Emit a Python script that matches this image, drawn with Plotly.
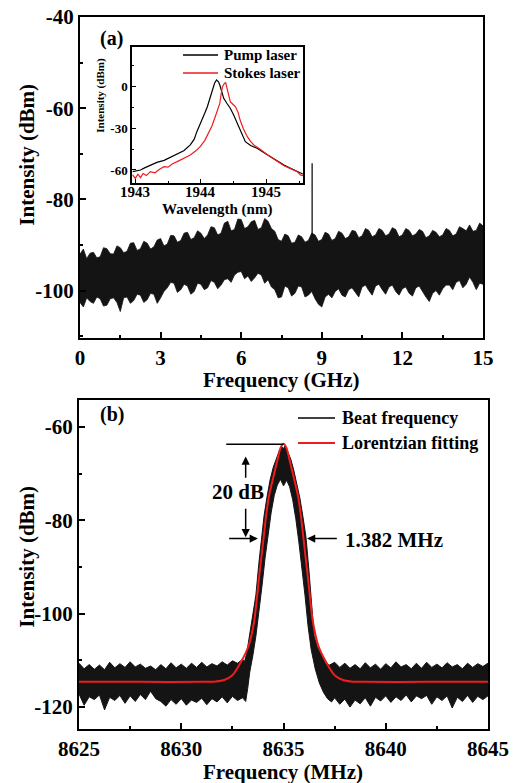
import plotly.graph_objects as go

W, H = 516, 783

# ---------------- (a) RF beat spectrum 0-15 GHz (noise band envelopes) ----------------
rf_freq_ghz = [0.0, 0.125, 0.25, 0.375, 0.5, 0.625, 0.75, 0.875, 1.0, 1.125, 1.25, 1.375, 1.5, 1.625, 1.75,
               1.875, 2.0, 2.125, 2.25, 2.375, 2.5, 2.625, 2.75, 2.875, 3.0, 3.125, 3.25, 3.375, 3.5, 3.625,
               3.75, 3.875, 4.0, 4.125, 4.25, 4.375, 4.5, 4.625, 4.75, 4.875, 5.0, 5.125, 5.25, 5.375, 5.5,
               5.625, 5.75, 5.875, 6.0, 6.125, 6.25, 6.375, 6.5, 6.625, 6.75, 6.875, 7.0, 7.125, 7.25, 7.375,
               7.5, 7.625, 7.75, 7.875, 8.0, 8.125, 8.25, 8.375, 8.5, 8.625, 8.75, 8.875, 9.0, 9.125, 9.25,
               9.375, 9.5, 9.625, 9.75, 9.875, 10.0, 10.125, 10.25, 10.375, 10.5, 10.625, 10.75, 10.875, 11.0,
               11.125, 11.25, 11.375, 11.5, 11.625, 11.75, 11.875, 12.0, 12.125, 12.25, 12.375, 12.5, 12.625,
               12.75, 12.875, 13.0, 13.125, 13.25, 13.375, 13.5, 13.625, 13.75, 13.875, 14.0, 14.125, 14.25,
               14.375, 14.5, 14.625, 14.75, 14.875, 15.0]
rf_upper_dbm = [-92.0, -90.9, -93.0, -91.8, -91.6, -92.8, -92.6, -90.6, -90.8, -91.9, -92.0, -90.2, -90.6,
                -91.7, -91.4, -89.6, -89.5, -91.2, -90.8, -89.2, -89.6, -90.9, -90.4, -88.9, -88.6, -90.2,
                -89.8, -87.9, -88.0, -89.4, -89.0, -87.4, -87.2, -88.8, -88.4, -86.9, -87.4, -88.6, -87.8,
                -86.0, -86.2, -87.8, -87.4, -85.2, -84.8, -86.9, -86.6, -84.3, -84.4, -86.4, -86.0, -84.9,
                -84.6, -86.6, -86.2, -84.2, -84.8, -86.4, -87.0, -88.8, -89.2, -87.6, -88.0, -89.6, -89.4,
                -87.8, -88.2, -89.4, -89.0, -87.4, -87.8, -89.2, -88.8, -87.2, -87.6, -89.0, -88.6, -87.0,
                -87.4, -88.6, -88.2, -86.8, -87.0, -88.4, -88.0, -86.4, -86.8, -88.2, -87.8, -86.4, -86.8,
                -88.0, -87.6, -86.2, -86.6, -88.2, -87.8, -86.4, -86.8, -88.0, -87.6, -86.6, -87.0, -88.4,
                -88.0, -86.8, -87.2, -88.2, -87.8, -86.4, -86.8, -88.0, -87.6, -86.0, -86.4, -86.9, -85.6,
                -87.0, -86.8, -85.2, -85.8]
rf_lower_dbm = [-102.6, -103.6, -101.6, -102.4, -102.8, -101.4, -101.8, -103.4, -103.2, -101.8, -101.6,
                -102.6, -104.6, -101.6, -101.4, -102.8, -102.2, -100.8, -101.0, -102.6, -102.0, -100.6,
                -100.8, -102.8, -101.6, -100.2, -99.4, -98.2, -98.4, -100.4, -99.8, -98.6, -99.0, -100.8,
                -100.2, -98.4, -98.6, -99.8, -99.4, -97.8, -98.2, -99.6, -98.8, -97.6, -97.4, -98.2, -96.6,
                -96.0, -95.8, -97.4, -96.8, -98.0, -97.2, -96.2, -96.6, -98.4, -97.6, -99.2, -99.8, -101.6,
                -101.4, -99.0, -99.4, -101.2, -100.6, -99.0, -99.2, -101.4, -101.0, -100.2, -101.8, -103.0,
                -103.6, -101.4, -100.8, -101.6, -100.2, -99.6, -101.0, -101.4, -99.8, -99.4, -100.4, -101.4,
                -99.2, -98.8, -100.0, -101.0, -99.0, -98.6, -99.8, -100.8, -99.2, -98.8, -100.2, -101.0,
                -99.6, -99.2, -100.6, -101.2, -99.4, -99.0, -100.2, -101.4, -102.4, -100.6, -100.0, -101.0,
                -99.6, -98.8, -98.8, -99.8, -98.2, -97.8, -99.4, -98.6, -97.0, -98.2, -99.8, -98.4, -98.6]
spur_freq_ghz = [8.64, 8.64]
spur_dbm = [-88.0, -72.1]

# ---------------- inset: optical spectra ----------------
pump_wl_nm = [1942.96, 1943.02, 1943.08, 1943.15, 1943.23, 1943.33, 1943.44, 1943.54, 1943.64, 1943.74,
              1943.84, 1943.90, 1943.94, 1943.98, 1944.02, 1944.06, 1944.10, 1944.14, 1944.17, 1944.21,
              1944.24, 1944.27, 1944.29, 1944.32, 1944.35, 1944.40, 1944.45, 1944.50, 1944.56, 1944.62,
              1944.68, 1944.76, 1944.86, 1944.96, 1945.06, 1945.16, 1945.27, 1945.37, 1945.47, 1945.56]
pump_dbm = [-61.2, -60.4, -60.0, -58.3, -56.6, -54.6, -53.1, -50.8, -48.8, -46.2, -42.1, -38.0, -32.6,
            -28.5, -24.3, -19.5, -14.8, -8.5, -2.9, 2.0, 4.3, 3.0, 0.7, -4.0, -8.8, -12.5, -15.9, -20.5,
            -26.6, -33.0, -39.8, -42.5, -44.5, -47.5, -50.5, -53.5, -56.4, -58.8, -61.2, -62.9]
stokes_wl_nm = [1942.96, 1943.00, 1943.04, 1943.08, 1943.12, 1943.17, 1943.23, 1943.30, 1943.37, 1943.44,
                1943.50, 1943.57, 1943.64, 1943.74, 1943.84, 1943.92, 1943.99, 1944.06, 1944.12, 1944.17,
                1944.22, 1944.26, 1944.29, 1944.31, 1944.33, 1944.36, 1944.38, 1944.40, 1944.42, 1944.45,
                1944.49, 1944.53, 1944.57, 1944.60, 1944.65, 1944.71, 1944.76, 1944.81, 1944.90, 1944.98,
                1945.06, 1945.16, 1945.27, 1945.37, 1945.47, 1945.52, 1945.56]
stokes_dbm = [-63.5, -66.0, -63.0, -65.5, -62.5, -64.0, -61.2, -62.0, -59.5, -57.6, -58.0, -55.5, -54.0,
              -51.5, -49.3, -46.5, -43.3, -39.0, -33.8, -28.5, -21.9, -16.5, -12.4, -6.0, -0.5, 1.8, 2.4,
              -1.5, -5.2, -11.2, -13.0, -14.8, -19.0, -24.3, -30.5, -36.2, -39.5, -42.1, -45.0, -48.0,
              -50.5, -53.5, -57.0, -59.0, -61.2, -63.5, -64.0]
inset_xticks_nm = [1943, 1944, 1945]
inset_yticks_dbm = [-60, -30, 0]

# ---------------- (b) beat note around 8635 MHz (band envelopes) ----------------
beat_upper_mhz = [8625.0, 8625.25, 8625.5, 8625.75, 8626.0, 8626.25, 8626.5, 8626.75, 8627.0, 8627.25,
                  8627.5, 8627.75, 8628.0, 8628.25, 8628.5, 8628.75, 8629.0, 8629.25, 8629.5, 8629.75,
                  8630.0, 8630.25, 8630.5, 8630.75, 8631.0, 8631.25, 8631.5, 8631.75, 8632.0, 8632.25,
                  8632.5, 8632.75, 8633.0,
                  8633.1, 8633.2, 8633.3, 8633.4, 8633.5, 8633.65, 8633.8, 8633.9, 8634.05, 8634.2,
                  8634.35, 8634.5, 8634.65, 8634.8, 8634.92, 8635.0, 8635.08, 8635.2, 8635.35, 8635.5,
                  8635.65, 8635.8, 8635.95, 8636.1, 8636.25, 8636.4, 8636.5, 8636.65, 8636.85, 8637.05,
                  8637.25,
                  8637.5, 8637.75, 8638.0, 8638.25, 8638.5, 8638.75, 8639.0, 8639.25, 8639.5, 8639.75,
                  8640.0, 8640.25, 8640.5, 8640.75, 8641.0, 8641.25, 8641.5, 8641.75, 8642.0, 8642.25,
                  8642.5, 8642.75, 8643.0, 8643.25, 8643.5, 8643.75, 8644.0, 8644.25, 8644.5, 8644.75,
                  8645.0]
beat_upper_dbm = [-110.6, -111.8, -110.9, -111.9, -111.0, -112.0, -110.4, -111.6, -110.7, -111.5,
                  -110.3, -111.4, -110.8, -111.7, -111.2, -112.0, -110.9, -111.8, -110.5, -111.6,
                  -110.8, -111.7, -110.6, -111.5, -110.4, -111.4, -110.7, -111.2, -110.3, -111.0,
                  -110.1, -110.6, -109.8,
                  -110.2, -108.5, -105.5, -103.0, -100.6, -96.0, -89.0, -84.5, -79.0, -74.8,
                  -71.2, -68.6, -66.6, -65.0, -64.2, -64.6, -64.0, -65.2, -66.8, -69.2,
                  -72.0, -75.2, -79.2, -83.6, -91.0, -100.5, -104.8, -107.0, -109.0, -110.6,
                  -111.0,
                  -110.4, -111.5, -110.6, -111.7, -110.9, -111.8, -110.5, -111.6, -110.8, -111.9,
                  -110.7, -111.6, -110.3, -111.4, -110.9, -111.8, -110.6, -111.7, -110.4, -111.5,
                  -110.8, -111.6, -110.5, -111.4, -110.9, -111.8, -110.6, -111.5, -110.7, -111.3,
                  -110.6]
beat_lower_mhz = [8625.0, 8625.25, 8625.5, 8625.75, 8626.0, 8626.25, 8626.5, 8626.75, 8627.0, 8627.25,
                  8627.5, 8627.75, 8628.0, 8628.25, 8628.5, 8628.75, 8629.0, 8629.25, 8629.5, 8629.75,
                  8630.0, 8630.25, 8630.5, 8630.75, 8631.0, 8631.25, 8631.5, 8631.75, 8632.0, 8632.25,
                  8632.5, 8632.75, 8633.0,
                  8633.15, 8633.25, 8633.35, 8633.5, 8633.65, 8633.8, 8633.95, 8634.1, 8634.25, 8634.4,
                  8634.55, 8634.7, 8634.85, 8635.0, 8635.15, 8635.3, 8635.45, 8635.6, 8635.75, 8635.9,
                  8636.05, 8636.2, 8636.35, 8636.55, 8636.75, 8636.95, 8637.15, 8637.35,
                  8637.5, 8637.75, 8638.0, 8638.25, 8638.5, 8638.75, 8639.0, 8639.25, 8639.5, 8639.75,
                  8640.0, 8640.25, 8640.5, 8640.75, 8641.0, 8641.25, 8641.5, 8641.75, 8642.0, 8642.25,
                  8642.5, 8642.75, 8643.0, 8643.25, 8643.5, 8643.75, 8644.0, 8644.25, 8644.5, 8644.75,
                  8645.0]
beat_lower_dbm = [-117.2, -119.6, -117.8, -118.4, -117.4, -120.6, -117.9, -118.6, -117.5, -119.2,
                  -117.6, -118.8, -117.3, -118.4, -116.6, -118.2, -118.8, -119.8, -118.4, -119.4,
                  -118.2, -119.6, -118.5, -119.0, -118.1, -119.5, -118.2, -118.9, -117.8, -119.1,
                  -117.7, -118.6, -118.0,
                  -118.8, -116.0, -112.5, -109.0, -104.8, -100.0, -94.0, -88.0, -83.0, -78.2,
                  -74.6, -72.4, -71.2, -72.6, -71.4, -72.8, -75.6, -79.6, -84.6, -90.0,
                  -96.0, -102.6, -107.6, -111.8, -114.8, -116.8, -118.2, -118.9,
                  -118.0, -119.4, -118.3, -120.0, -118.5, -119.3, -118.0, -119.8, -117.9, -118.7,
                  -117.6, -119.0, -117.8, -118.6, -117.4, -118.9, -117.6, -118.2, -117.5, -119.4,
                  -117.8, -118.6, -117.6, -120.2, -117.9, -118.8, -117.5, -119.0, -117.7, -118.4,
                  -117.6]
# Lorentzian fitting curve
fit_mhz = [8625.0, 8628.0, 8631.0, 8631.7, 8632.1, 8632.5, 8632.9, 8633.3, 8633.57, 8633.8, 8634.02,
           8634.15, 8634.29, 8634.5, 8634.68, 8634.85, 8635.0, 8635.15, 8635.32, 8635.5, 8635.71,
           8635.85, 8635.98, 8636.2, 8636.43, 8636.7, 8637.1, 8637.5, 8637.9, 8638.3, 8639.0, 8642.0,
           8645.0]
fit_dbm = [-114.6, -114.6, -114.6, -114.5, -114.2, -113.2, -110.5, -106.8, -101.5, -92.5, -84.0,
           -79.0, -74.8, -70.8, -67.5, -64.5, -63.6, -64.5, -67.5, -70.8, -74.8,
           -79.0, -84.0, -92.5, -101.5, -106.8, -110.5, -113.2, -114.2, -114.5, -114.6, -114.6,
           -114.6]

top_yticks = [-100, -80, -60, -40]
bottom_yticks = [-120, -100, -80, -60]

for a, b in [(rf_freq_ghz, rf_upper_dbm), (rf_freq_ghz, rf_lower_dbm), (pump_wl_nm, pump_dbm),
             (stokes_wl_nm, stokes_dbm), (beat_upper_mhz, beat_upper_dbm),
             (beat_lower_mhz, beat_lower_dbm), (fit_mhz, fit_dbm)]:
    assert len(a) == len(b), (len(a), len(b))

FONT = "Liberation Serif"
BAND = "#141414"


def px(x, y):
    return x / W, 1 - y / H


fig = go.Figure()

# (a) noise band
fig.add_trace(go.Scatter(
    x=rf_freq_ghz + rf_freq_ghz[::-1], y=rf_upper_dbm + rf_lower_dbm[::-1],
    fill="toself", fillcolor=BAND, line=dict(color=BAND, width=0.8), mode="lines",
    xaxis="x", yaxis="y", hoverinfo="skip", showlegend=False))
fig.add_trace(go.Scatter(x=spur_freq_ghz, y=spur_dbm, mode="lines", line=dict(color="black", width=1.2),
                         xaxis="x", yaxis="y", showlegend=False))
# inset
fig.add_trace(go.Scatter(x=pump_wl_nm, y=pump_dbm, mode="lines", line=dict(color="black", width=1.2),
                         xaxis="x3", yaxis="y3", showlegend=False))
fig.add_trace(go.Scatter(x=stokes_wl_nm, y=stokes_dbm, mode="lines", line=dict(color="#ee1c1c", width=1.2),
                         xaxis="x3", yaxis="y3", showlegend=False))
# (b)
fig.add_trace(go.Scatter(
    x=beat_upper_mhz + beat_lower_mhz[::-1], y=beat_upper_dbm + beat_lower_dbm[::-1],
    fill="toself", fillcolor=BAND, line=dict(color=BAND, width=1), mode="lines",
    xaxis="x2", yaxis="y2", hoverinfo="skip", showlegend=False))
fig.add_trace(go.Scatter(x=fit_mhz, y=fit_dbm, mode="lines",
                         line=dict(color="#ee1c1c", width=2, shape="spline", smoothing=0.6),
                         xaxis="x2", yaxis="y2", showlegend=False))

tickfont = dict(family=FONT, size=21, color="black", weight="bold")


def main_axis(rng, dtick, minor, domain, anchor, tick0=0, tickvals=None):
    d = dict(range=rng, domain=domain, anchor=anchor, automargin=False,
             ticks="inside", ticklen=6, tickwidth=2, tickcolor="black",
             minor=dict(ticks="inside", ticklen=3, tickwidth=1.5, tickmode="linear", dtick=minor, tick0=tick0,
                        tickcolor="black"),
             showline=True, linewidth=2, linecolor="black", mirror=True,
             showgrid=False, zeroline=False, tickfont=tickfont)
    if tickvals is None:
        d.update(dtick=dtick, tick0=tick0)
    else:
        d.update(tickmode="array", tickvals=tickvals, ticktext=[str(v) for v in tickvals])
    return d


fig.update_layout(
    width=W, height=H, autosize=False,
    margin=dict(l=0, r=0, t=0, b=0, autoexpand=False),
    paper_bgcolor="white", plot_bgcolor="white",
    xaxis=main_axis([0, 15], 3, 1.5, [80 / W, 483 / W], "y"),
    yaxis=main_axis([-110.4, -40], 20, 10, [1 - 338 / H, 1 - 17 / H], "x", tickvals=top_yticks),
    xaxis2=main_axis([8625, 8645], 5, 2.5, [79 / W, 488 / W], "y2"),
    yaxis2=main_axis([-124.7, -54.2], 20, 10, [1 - 729 / H, 1 - 400 / H], "x2", tickvals=bottom_yticks),
    xaxis3=dict(range=[1942.95, 1945.56], domain=[132 / W, 303 / W], anchor="y3", dtick=1, automargin=False,
                ticks="inside", ticklen=4, tickwidth=1.2, tickcolor="black",
                minor=dict(ticks="inside", ticklen=2.5, tickwidth=1, dtick=0.5, tickcolor="black"),
                showline=True, linewidth=1.5, linecolor="black", mirror=True,
                showgrid=False, zeroline=False, showticklabels=False),
    yaxis3=dict(range=[-69.3, 27.9], domain=[1 - 183 / H, 1 - 47 / H], anchor="x3",
                tickmode="array", tickvals=inset_yticks_dbm, ticktext=[str(v) for v in inset_yticks_dbm],
                automargin=False,
                ticks="inside", ticklen=4, tickwidth=1.2, tickcolor="black",
                minor=dict(ticks="inside", ticklen=2.5, tickwidth=1, tickmode="linear", dtick=15, tick0=0,
                           tickcolor="black"),
                showline=True, linewidth=1.5, linecolor="black", mirror=True,
                showgrid=False, zeroline=False,
                tickfont=dict(family=FONT, size=13, color="black", weight="bold")),
)

ann = []
shapes = []


def text(x, y, s, size, angle=0, xanchor="center"):
    X, Y = px(x, y)
    ann.append(dict(x=X, y=Y, xref="paper", yref="paper", text=s, showarrow=False, textangle=angle,
                    xanchor=xanchor, yanchor="middle",
                    font=dict(family=FONT, size=size, color="black", weight="bold")))


def hline(x0, x1, y, color, width):
    X0, Y = px(x0, y)
    X1, _ = px(x1, y)
    shapes.append(dict(type="line", xref="paper", yref="paper", x0=X0, x1=X1, y0=Y, y1=Y,
                       line=dict(color=color, width=width)))


# axis titles
text(26.7, 155, "Intensity (dBm)", 21, angle=-90)
text(281.7, 380, "Frequency (GHz)", 21)
text(26.7, 557, "Intensity (dBm)", 21, angle=-90)
text(283.3, 772, "Frequency (MHz)", 21)
text(111.7, 38, "(a)", 20)
text(111.7, 415, "(b)", 20)
# inset tick labels and titles
for t in inset_xticks_nm:
    ann.append(dict(x=t, y=1 - 192 / H, xref="x3", yref="paper", text=str(t), showarrow=False,
                    yanchor="middle", font=dict(family=FONT, size=15, color="black", weight="bold")))
text(100.7, 95, "Intensity (dBm)", 11, angle=-90)
text(216.7, 209, "Wavelength (nm)", 15)
# inset legend
hline(183, 218, 55, "black", 1.3)
text(222, 55, "Pump laser", 15, xanchor="left")
hline(183, 218, 73, "#ee1c1c", 1.3)
text(222, 73, "Stokes laser", 15, xanchor="left")
# (b) legend
hline(298, 335, 418, "black", 1.5)
text(340, 418, "Beat frequency", 18, xanchor="left")
hline(298, 335, 443, "#ee1c1c", 2)
text(340, 443, "Lorentzian fitting", 18, xanchor="left")

# (b) measurement markers (data coordinates)
shapes.append(dict(type="line", xref="x2", yref="y2", x0=8632.2, x1=8635.0, y0=-63.7, y1=-63.7,
                   line=dict(color="black", width=1.5)))


def arrow(x_tip, y_tip, x_tail, y_tail):
    ann.append(dict(x=x_tip, y=y_tip, ax=x_tail, ay=y_tail, xref="x2", yref="y2", axref="x2", ayref="y2",
                    text="", showarrow=True, arrowhead=2, arrowsize=1.1, arrowwidth=1.5, arrowcolor="black"))


arrow(8633.15, -66.3, 8633.15, -71.2)
arrow(8633.15, -83.6, 8633.15, -77.2)
arrow(8633.75, -83.9, 8632.27, -83.9)
arrow(8636.15, -83.9, 8637.68, -83.9)
ann.append(dict(x=8632.78, y=-74.0, xref="x2", yref="y2", text="20 dB", showarrow=False,
                font=dict(family=FONT, size=21, color="black", weight="bold")))
ann.append(dict(x=8637.93, y=-84.1, xref="x2", yref="y2", text="1.382 MHz", showarrow=False, xanchor="left",
                font=dict(family=FONT, size=21, color="black", weight="bold")))

fig.update_layout(annotations=ann, shapes=shapes)
fig.write_html("out.html", config={"displayModeBar": False},
               post_script="document.body.style.margin='0';document.body.style.overflow='hidden';")
